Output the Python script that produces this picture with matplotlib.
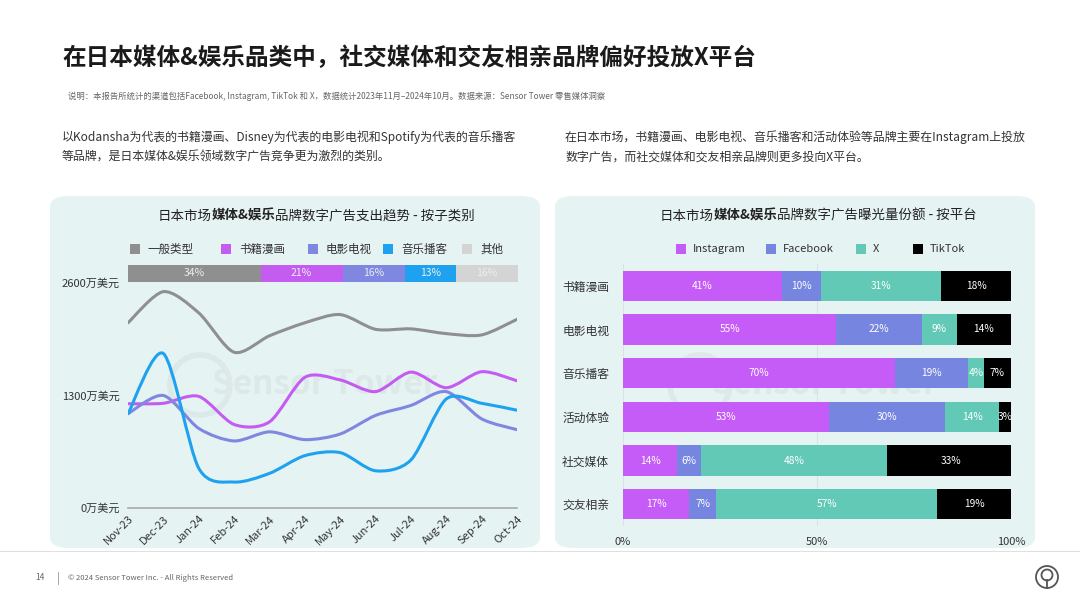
import numpy as np
import matplotlib.pyplot as plt
from matplotlib.patches import FancyBboxPatch, Ellipse, Rectangle
from matplotlib.path import Path
from matplotlib.patches import PathPatch

plt.rcParams['font.family'] = ['Noto Sans CJK SC', 'DejaVu Sans']

# ---- data ----
months = ['Nov-23', 'Dec-23', 'Jan-24', 'Feb-24', 'Mar-24', 'Apr-24', 'May-24',
          'Jun-24', 'Jul-24', 'Aug-24', 'Sep-24', 'Oct-24']
general = [2140, 2500, 2255, 1800, 1990, 2140, 2235, 2065, 2070, 2015, 2000, 2180]
books = [1205, 1210, 1290, 965, 995, 1510, 1480, 1345, 1570, 1390, 1575, 1470]
movies = [1090, 1300, 920, 775, 880, 790, 855, 1070, 1185, 1345, 1030, 905]
music = [1090, 1785, 460, 300, 400, 605, 640, 430, 555, 1260, 1210, 1130]
line_names = ['一般类型', '书籍漫画', '电影电视', '音乐播客', '其他']
line_colors = ['#8f8f8f', '#c45cf2', '#7f87e0', '#1ea2f0', '#d4d4d4']
share_vals = [34, 21, 16, 13, 16]
y_ticks = [0, 1300, 2600]
y_labels = ['0万美元', '1300万美元', '2600万美元']

cats = ['书籍漫画', '电影电视', '音乐播客', '活动体验', '社交媒体', '交友相亲']
platforms = ['Instagram', 'Facebook', 'X', 'TikTok']
instagram = [41, 55, 70, 53, 14, 17]
facebook = [10, 22, 19, 30, 6, 7]
x_share = [31, 9, 4, 14, 48, 57]
tiktok = [18, 14, 7, 3, 33, 19]
plat_colors = ['#c65cf7', '#7585e0', '#62c9b6', '#000000']

W, H = 1080, 607
fig = plt.figure(figsize=(10.8, 6.07), dpi=100)
fig.patch.set_facecolor('white')


def fx(x):
    return x / W


def fy(y):
    return 1 - y / H


def rect(x0, y0, x1, y1):
    return [fx(x0), fy(y1), fx(x1) - fx(x0), fy(y0) - fy(y1)]


def mixed_text(parts, cx, cy, size, color='#222222'):
    # draw text pieces with different weights, centred as a whole
    r = fig.canvas.get_renderer()
    widths = []
    for s, w in parts:
        t = fig.text(0, 0, s, fontsize=size, fontweight=w)
        widths.append(t.get_window_extent(r).width)
        t.remove()
    x = cx - sum(widths) / 2
    for (s, w), wd in zip(parts, widths):
        fig.text(fx(x), fy(cy), s, fontsize=size, fontweight=w, color=color, va='center')
        x += wd


def smooth_path(xs, ys, t=0.14):
    # catmull-rom style bezier through the data points
    xs = np.asarray(xs, float)
    ys = np.asarray(ys, float)
    n = len(xs)
    verts = [(xs[0], ys[0])]
    codes = [Path.MOVETO]
    for i in range(n - 1):
        p0 = i - 1 if i > 0 else i
        p3 = i + 2 if i + 2 < n else i + 1
        c1 = (xs[i] + (xs[i + 1] - xs[p0]) * t, ys[i] + (ys[i + 1] - ys[p0]) * t)
        c2 = (xs[i + 1] - (xs[p3] - xs[i]) * t, ys[i + 1] - (ys[p3] - ys[i]) * t)
        verts += [c1, c2, (xs[i + 1], ys[i + 1])]
        codes += [Path.CURVE4] * 3
    return Path(verts, codes)


# ---- header text ----
fig.text(fx(62), fy(58), '在日本媒体&娱乐品类中，社交媒体和交友相亲品牌偏好投放X平台',
         fontsize=17, fontweight='bold', color='#1a1a1a', va='center')
fig.text(fx(68), fy(96), '说明：本报告所统计的渠道包括Facebook, Instagram, TikTok 和 X，数据统计2023年11月–2024年10月。数据来源：Sensor Tower 零售媒体洞察',
         fontsize=6, color='#666666', va='center')
fig.text(fx(62), fy(137), '以Kodansha为代表的书籍漫画、Disney为代表的电影电视和Spotify为代表的音乐播客',
         fontsize=8.6, color='#333333', va='center')
fig.text(fx(62), fy(157), '等品牌，是日本媒体&娱乐领域数字广告竞争更为激烈的类别。',
         fontsize=8.6, color='#333333', va='center')
fig.text(fx(565), fy(137), '在日本市场，书籍漫画、电影电视、音乐播客和活动体验等品牌主要在Instagram上投放',
         fontsize=8.6, color='#333333', va='center')
fig.text(fx(565), fy(157), '数字广告，而社交媒体和交友相亲品牌则更多投向X平台。',
         fontsize=8.6, color='#333333', va='center')

# ---- panels ----
for x0, x1 in [(50, 540), (555, 1035)]:
    fig.patches.append(FancyBboxPatch((fx(x0), fy(548)), fx(x1) - fx(x0), fy(196) - fy(548),
                                      boxstyle='round,pad=0,rounding_size=0.018',
                                      transform=fig.transFigure, facecolor='#e6f3f3',
                                      edgecolor='none', zorder=-2))
    fig.text(fx((x0 + x1) / 2 + 30), fy(385), 'Sensor Tower', fontsize=24, fontweight='bold',
             color='#dde9e9', ha='center', va='center', zorder=-1)
    fig.patches.append(Ellipse((fx((x0 + x1) / 2 - 95), fy(385)), 60 / W, 60 / H,
                               transform=fig.transFigure, facecolor='none',
                               edgecolor='#dde9e9', lw=4, zorder=-1))
fig.lines.append(plt.Line2D([0, 1], [fy(551), fy(551)], transform=fig.transFigure,
                            color='#e0e0e0', lw=0.8))

# ---- left chart ----
mixed_text([('日本市场', 'normal'), ('媒体&娱乐', 'bold'), ('品牌数字广告支出趋势 - 按子类别', 'normal')],
           316, 216, 9.7)

lx = [135, 226, 313, 388, 467]
for x, name, c in zip(lx, line_names, line_colors):
    fig.patches.append(Rectangle((fx(x - 5), fy(254)), fx(10), fy(244) - fy(254),
                                 transform=fig.transFigure, facecolor=c, edgecolor='none'))
    fig.text(fx(x + 13), fy(249), name, fontsize=8.3, color='#333333', va='center')

ax_s = fig.add_axes(rect(128, 265, 518, 282))
left = 0
for v, c in zip(share_vals, line_colors):
    ax_s.barh(0, v, left=left, height=1, color=c)
    ax_s.text(left + v / 2, 0, f'{v}%', ha='center', va='center', fontsize=7.5, color='#eeeeee')
    left += v
ax_s.set_xlim(0, sum(share_vals))
ax_s.set_ylim(-0.5, 0.5)
ax_s.axis('off')

ax = fig.add_axes(rect(128, 283, 517, 508))
ax.set_facecolor('none')
xs = np.arange(len(months))
for ys, c in zip([general, books, movies, music], line_colors):
    ax.add_patch(PathPatch(smooth_path(xs, ys), facecolor='none', edgecolor=c, lw=2.2,
                           capstyle='round', joinstyle='round'))
ax.set_xlim(0, len(months) - 1)
ax.set_ylim(0, 2600)
ax.set_yticks(y_ticks)
ax.set_yticklabels(y_labels, fontsize=8, color='#333333')
ax.set_xticks(xs)
ax.set_xticklabels(months, rotation=45, ha='right', rotation_mode='anchor', fontsize=8, color='#333333')
ax.tick_params(length=0, pad=6)
ax.tick_params(axis='x', pad=4)
for s in ['top', 'right', 'left']:
    ax.spines[s].set_visible(False)
ax.spines['bottom'].set_color('#aaaaaa')
ax.spines['bottom'].set_linewidth(1.2)

# ---- right chart ----
mixed_text([('日本市场', 'normal'), ('媒体&娱乐', 'bold'), ('品牌数字广告曝光量份额 - 按平台', 'normal')],
           818, 216, 9.7)

px = [681, 771, 861, 918]
for x, name, c in zip(px, platforms, plat_colors):
    fig.patches.append(Rectangle((fx(x - 5), fy(254)), fx(10), fy(244) - fy(254),
                                 transform=fig.transFigure, facecolor=c, edgecolor='none'))
    fig.text(fx(x + 12), fy(249), name, fontsize=8, color='#333333', va='center')

ax2 = fig.add_axes(rect(623, 264, 1011, 526))
ax2.set_facecolor('none')
yp = np.arange(len(cats))
left = np.zeros(len(cats))
for vals, c in zip([instagram, facebook, x_share, tiktok], plat_colors):
    vals = np.array(vals)
    ax2.barh(yp, vals, left=left, height=0.7, color=c, zorder=2)
    for y, v, l in zip(yp, vals, left):
        ax2.text(l + v / 2, y, f'{v}%', ha='center', va='center', fontsize=7.3, color='white', zorder=3)
    left += vals
ax2.set_xlim(0, 100)
ax2.set_ylim(len(cats) - 0.5, -0.5)
ax2.set_yticks(yp)
ax2.set_yticklabels(cats, fontsize=8.5, color='#333333')
ax2.set_xticks([0, 50, 100])
ax2.set_xticklabels(['0%', '50%', '100%'], fontsize=8, color='#333333')
ax2.tick_params(length=0)
ax2.tick_params(axis='y', pad=10)
ax2.tick_params(axis='x', pad=8)
ax2.grid(axis='x', color='#d9e3e3', lw=0.8, zorder=0)
for s in ax2.spines.values():
    s.set_visible(False)

# ---- footer ----
fig.text(fx(35), fy(578), '14', fontsize=6, color='#666666', va='center')
fig.lines.append(plt.Line2D([fx(58), fx(58)], [fy(572), fy(584)], transform=fig.transFigure,
                            color='#999999', lw=0.6))
fig.text(fx(68), fy(578), '© 2024 Sensor Tower Inc. - All Rights Reserved', fontsize=5.5,
         color='#666666', va='center')
fig.patches.append(Ellipse((fx(1047), fy(577)), 22 / W, 22 / H, transform=fig.transFigure,
                           facecolor='none', edgecolor='#555555', lw=1.3))
fig.patches.append(Ellipse((fx(1047), fy(575)), 11 / W, 11 / H, transform=fig.transFigure,
                           facecolor='none', edgecolor='#555555', lw=1.3))
fig.lines.append(plt.Line2D([fx(1047), fx(1047)], [fy(580), fy(588)], transform=fig.transFigure,
                            color='#555555', lw=1.3))

fig.savefig('out.png', dpi=100)
